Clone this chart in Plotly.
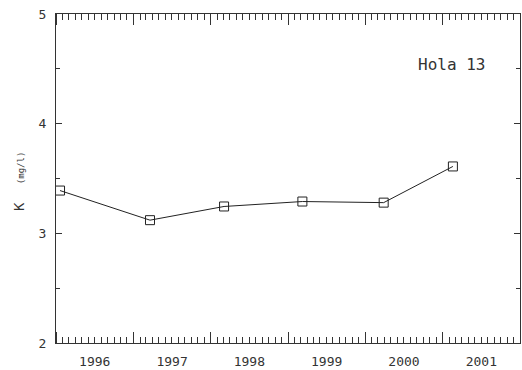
import plotly.graph_objects as go

dates = ["1996-01-20", "1997-03-20", "1998-03-05", "1999-03-10", "2000-03-28", "2001-02-18"]
k_values = [3.39, 3.12, 3.245, 3.29, 3.28, 3.61]
station = "Hola 13"
y_title_main = "K"
y_title_unit = "(mg/l)"

FONT = "DejaVu Sans Mono"
INK = "#333333"

fig = go.Figure()
fig.add_trace(go.Scatter(
    x=dates, y=k_values, mode="lines+markers",
    line=dict(color="#222222", width=1),
    marker=dict(symbol="square-open", size=9, color="#222222", line=dict(width=1)),
    showlegend=False,
))

fig.update_layout(
    width=522, height=370,
    margin=dict(l=56, r=2, t=14, b=27),
    paper_bgcolor="white", plot_bgcolor="white",
    font=dict(family=FONT, size=13, color=INK),
    xaxis=dict(
        type="date", range=["1996-01-01", "2002-01-01"],
        dtick="M12", tick0="1996-01-01", tickformat="%Y",
        ticklabelmode="period", ticklabelstandoff=6,
        ticks="inside", ticklen=11, tickcolor="#333", tickwidth=1,
        minor=dict(dtick="M1", ticks="inside", ticklen=6, tickcolor="#333", tickwidth=1, showgrid=False),
        showline=True, linecolor="#333", linewidth=1, mirror="ticks",
        showgrid=False, zeroline=False,
        tickfont=dict(family=FONT, size=13, color=INK),
    ),
    yaxis=dict(
        range=[2, 5], dtick=1, tick0=2, ticklabelstandoff=6,
        ticks="inside", ticklen=6, tickcolor="#333", tickwidth=1,
        minor=dict(dtick=0.5, ticks="inside", ticklen=4, tickcolor="#333", tickwidth=1, showgrid=False),
        showline=True, linecolor="#333", linewidth=1, mirror="ticks",
        showgrid=False, zeroline=False,
        tickfont=dict(family=FONT, size=13, color=INK),
    ),
    annotations=[
        dict(text=station, xref="paper", yref="paper", x=0.853, y=0.845,
             xanchor="center", yanchor="middle",
             showarrow=False, font=dict(family=FONT, size=16, color=INK)),
        dict(text=y_title_main, xref="paper", yref="paper", x=-0.08, y=0.416,
             textangle=-90, showarrow=False, xanchor="center", yanchor="middle",
             font=dict(family=FONT, size=14, color=INK)),
        dict(text=y_title_unit, xref="paper", yref="paper", x=-0.075, y=0.532,
             textangle=-90, showarrow=False, xanchor="center", yanchor="middle",
             font=dict(family=FONT, size=9, color=INK)),
    ],
)

fig.write_html(
    "out.html",
    config={"displayModeBar": False},
    post_script="document.body.style.margin='0';document.body.style.overflow='hidden';",
)
